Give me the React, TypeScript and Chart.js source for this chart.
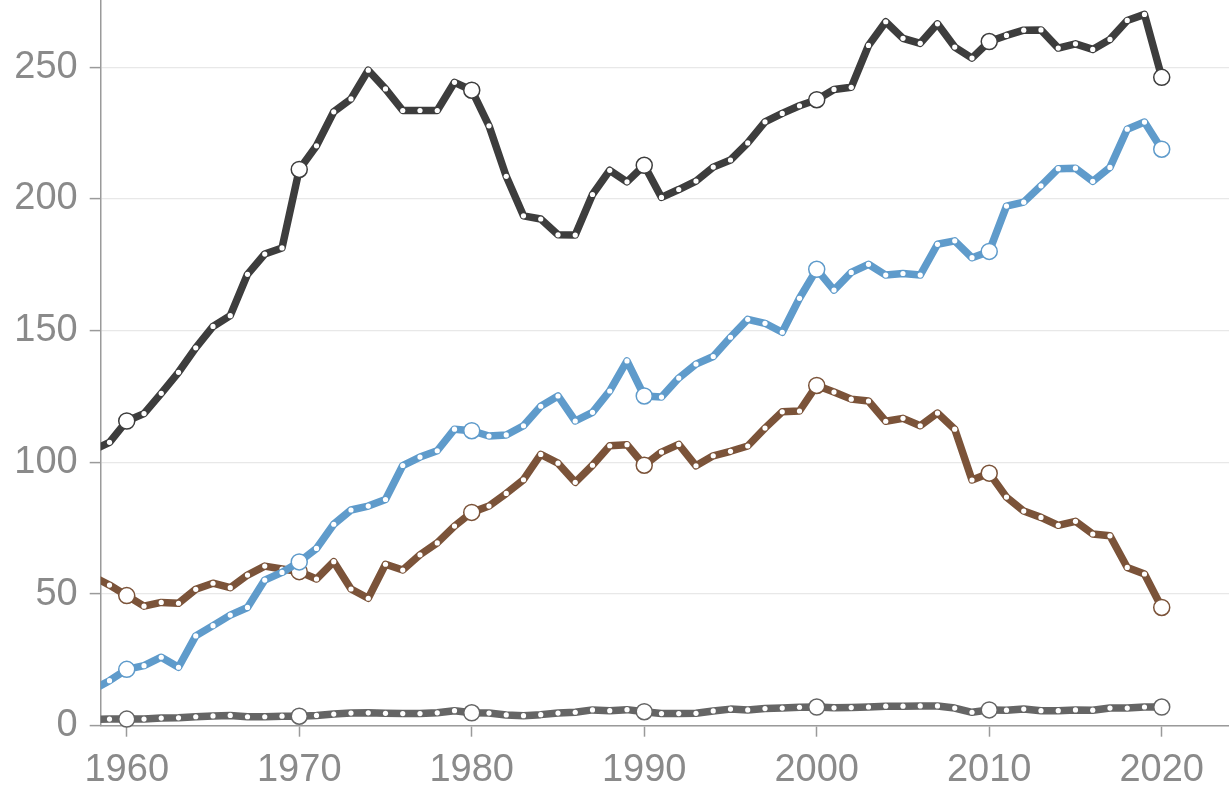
import React, { useEffect, useRef } from "react";
import { Chart, registerables } from "chart.js";

Chart.register(...registerables);

const years: number[] = [];
for (let y = 1958; y <= 2020; y++) years.push(y);

const darkSeries = [
  104.5, 107.6, 115.7, 118.5, 126.2, 134.2, 143.5, 151.6, 155.7, 171.4, 179.1, 181.4,
  211.2, 220.2, 233.1, 238.0, 248.9, 241.8, 233.6, 233.6, 233.6, 244.3,
  241.3, 227.8, 208.6, 193.6, 192.4, 186.4, 186.3, 201.7, 210.9, 206.5,
  212.8, 200.6, 203.6, 206.8, 212.1, 214.8, 221.3, 229.3, 232.5, 235.4,
  237.7, 241.6, 242.4, 258.3, 267.3, 261.0, 259.1, 266.5, 257.7, 253.5,
  259.8, 262.1, 264.1, 264.2, 257.3, 258.9, 256.8, 260.6, 267.8, 270.1,
  246.2,
];

const blueSeries = [
  13.5, 17.1, 21.4, 22.8, 26.0, 22.2, 34.1, 38.0, 42.0, 44.9, 55.3, 58.2,
  62.2, 67.3, 76.5, 81.9, 83.4, 85.9, 98.8, 102.0, 104.4, 112.6,
  112.0, 110.0, 110.4, 113.9, 121.3, 125.2, 115.7, 119.0, 127.1, 138.5,
  125.2, 124.8, 132.0, 137.3, 140.2, 147.5, 154.3, 152.8, 149.4, 162.3,
  173.3, 165.4, 172.1, 175.2, 171.1, 171.7, 171.1, 182.8, 184.1, 177.7,
  180.1, 197.3, 198.8, 205.0, 211.5, 211.7, 206.7, 212.0, 226.5, 229.2,
  218.9,
];

const brownSeries = [
  56.8, 53.4, 49.4, 45.4, 46.8, 46.5, 51.8, 54.1, 52.4, 57.2, 60.6, 59.5,
  58.5, 55.7, 62.3, 51.9, 48.4, 61.3, 59.1, 64.9, 69.4, 75.8,
  81.0, 83.4, 88.2, 93.4, 103.0, 99.7, 92.4, 98.9, 106.3, 106.7,
  98.9, 103.9, 106.8, 98.7, 102.5, 104.2, 106.2, 113.0, 119.2, 119.5,
  129.2, 126.7, 124.0, 123.3, 115.6, 116.7, 113.9, 118.7, 112.6, 93.3,
  95.9, 86.8, 81.5, 79.1, 76.1, 77.6, 72.8, 72.1, 60.1, 57.6,
  44.9,
];

const graySeries = [
  2.4, 2.5, 2.5, 2.5, 2.9, 3.0, 3.4, 3.7, 3.9, 3.4, 3.4, 3.6,
  3.6, 3.9, 4.4, 4.8, 4.9, 4.7, 4.6, 4.6, 4.9, 5.7,
  4.9, 4.8, 4.1, 3.8, 4.2, 4.8, 5.1, 6.0, 5.7, 6.1,
  5.3, 4.6, 4.6, 4.7, 5.6, 6.3, 6.0, 6.5, 6.7, 7.0,
  7.1, 6.8, 6.9, 7.1, 7.4, 7.4, 7.5, 7.5, 6.7, 5.1,
  6.0, 5.9, 6.3, 5.7, 5.7, 6.0, 5.9, 6.7, 6.7, 7.1,
  7.1,
];

const xTickStep = 10;
const yTickStep = 50;

const FONT = "'Liberation Sans', Helvetica, Arial, sans-serif";
const TICK_COLOR = "#8a8a8a";
const AXIS_COLOR = "#9a9a9a";

function makeDataset(values: number[], color: string) {
  const isDecade = years.map((y) => y % 10 === 0);
  return {
    data: years.map((y, i) => ({ x: y, y: values[i] })),
    borderColor: color,
    borderWidth: 7.5,
    borderJoinStyle: "round" as const,
    borderCapStyle: "round" as const,
    tension: 0,
    pointBackgroundColor: "#ffffff",
    pointBorderColor: color,
    pointRadius: isDecade.map((d) => (d ? 8 : 2.6)),
    pointBorderWidth: isDecade.map((d) => (d ? 1.5 : 0)),
    clip: { left: 0, top: 12, right: 12, bottom: 12 },
  };
}

export default function App() {
  const canvasRef = useRef<HTMLCanvasElement | null>(null);

  useEffect(() => {
    const canvas = canvasRef.current;
    if (!canvas) return;
    const chart = new Chart(canvas, {
      type: "line",
      data: {
        datasets: [
          makeDataset(darkSeries, "#3d3d3d"),
          makeDataset(blueSeries, "#5f9bcb"),
          makeDataset(brownSeries, "#7b5339"),
          makeDataset(graySeries, "#656565"),
        ],
      },
      options: {
        animation: false,
        responsive: false,
        devicePixelRatio: 1,
        layout: { padding: 0, autoPadding: false },
        plugins: {
          legend: { display: false },
          tooltip: { enabled: false },
        },
        scales: {
          x: {
            type: "linear",
            min: 1958.49,
            max: 2023.9,
            ticks: {
              stepSize: xTickStep,
              includeBounds: false,
              autoSkip: false,
              maxRotation: 0,
              color: TICK_COLOR,
              font: { family: FONT, size: 38 },
              padding: 11,
              callback: (v: any) => String(v),
            },
            grid: {
              drawOnChartArea: false,
              drawTicks: true,
              tickLength: 11,
              tickColor: AXIS_COLOR,
              tickWidth: 1.5,
            },
            border: { color: AXIS_COLOR, width: 1.5 },
            afterFit: (s: any) => {
              s.height = 70.3;
              s.paddingLeft = 0;
              s.paddingRight = 0;
            },
          },
          y: {
            type: "linear",
            min: 0,
            max: 275.56,
            ticks: {
              stepSize: yTickStep,
              includeBounds: false,
              color: TICK_COLOR,
              font: { family: FONT, size: 38 },
              padding: 12,
              callback: (v: any) => String(v),
            },
            grid: {
              color: "#e8e8e8",
              lineWidth: 1.2,
              drawTicks: true,
              tickLength: 11,
              tickColor: AXIS_COLOR,
              tickWidth: 1.5,
            },
            border: { color: AXIS_COLOR, width: 1.5 },
            afterFit: (s: any) => {
              s.width = 100.7;
              s.paddingTop = 0;
              s.paddingBottom = 0;
            },
          },
        },
      } as any,
    });
    return () => chart.destroy();
  }, []);

  return (
    <div style={{ position: "fixed", left: 0, top: 0, width: 1229, height: 796, background: "#fff" }}>
      <canvas ref={canvasRef} width={1229} height={796} style={{ display: "block" }} />
    </div>
  );
}
